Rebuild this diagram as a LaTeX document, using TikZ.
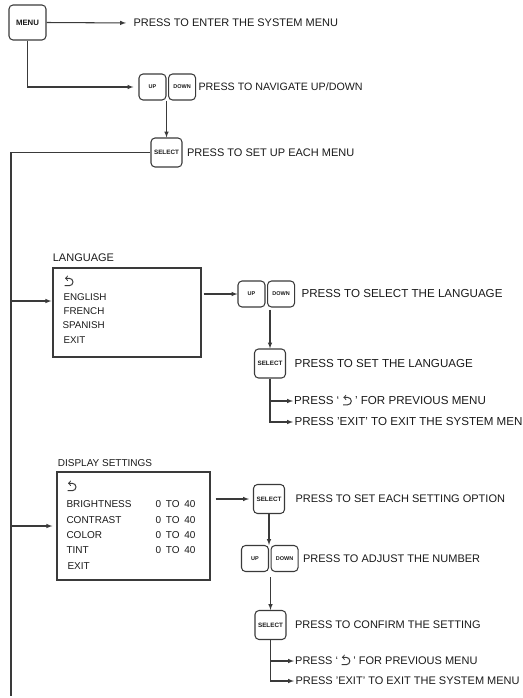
\documentclass[tikz,border=0pt]{standalone}
\usepackage{fontspec}
\setmainfont{Liberation Sans}
\usepackage{tikz}
\usetikzlibrary{calc,positioning,arrows}

\definecolor{linec}{HTML}{3A3A3A}
\definecolor{textc}{HTML}{1A1A1A}

\newcommand{\backsym}{\tikz[baseline=0pt,x=1pt,y=1pt,line width=1pt]{\draw[-to,linec] (0,0) -- (4.6,0) arc (-90:90:3.7) -- (0.3,7.4);}}

\begin{document}
\begin{tikzpicture}[x=1pt,y=-1pt,line width=1.05pt,color=linec,text=textc]
\tikzstyle{btn}=[draw, rounded corners=4pt, inner sep=0pt, minimum width=27pt, minimum height=26pt, font=\fontsize{5.5}{6}\selectfont\bfseries]
\tikzstyle{sel}=[btn, minimum width=31pt, minimum height=29pt, font=\fontsize{6.3}{7}\selectfont\bfseries]
\tikzstyle{lbl}=[anchor=west, inner sep=0pt, font=\fontsize{11}{13}\selectfont]
\tikzstyle{lblb}=[lbl, font=\fontsize{11.6}{13}\selectfont]
\tikzstyle{item}=[anchor=west, inner sep=0pt, font=\fontsize{9.8}{12}\selectfont]
\tikzstyle{menubox}=[draw, line width=1.3pt, inner sep=0pt]
\tikzstyle{arr}=[-latex]
\useasboundingbox (0,0) rectangle (522,698);

% main menu
\node[btn, minimum width=37pt, minimum height=35pt, font=\fontsize{7.8}{8}\selectfont\bfseries] (menu) at (27.5,22.5) {MENU};
\node[lbl] (t1) at (133,23) {PRESS TO ENTER THE SYSTEM MENU};
\draw[arr] (menu.east) -- (t1.west) [shorten >=7pt];
\node[btn] (up1) at (152.5,87) {UP};
\node[btn, right=1.5pt of up1] (down1) {DOWN};
\node[lbl, right=2pt of down1, font=\fontsize{10.7}{13}\selectfont] (t2) {PRESS TO NAVIGATE UP/DOWN};
\draw[arr, shorten >=5pt] (menu.south) |- (up1.west);
\node[sel] (sel1) at (166.5,152.5) {SELECT};
\node[lbl, right=4pt of sel1] (t3) {PRESS TO SET UP EACH MENU};
\draw[arr] (sel1.north |- up1.south) -- (sel1.north);
\coordinate (top) at (11,152.5);
\coordinate (bot) at (11,696);
\draw (sel1.west) -- (top) -- (bot);

% language
\node[menubox, minimum width=148pt, minimum height=89pt] (lang) at (127,312.5) {};
\node[item, anchor=south west, font=\fontsize{11}{13}\selectfont] (langt) at ($(lang.north west)+(0,-5)$) {LANGUAGE};
\node[item] (lb) at (64,282) {\backsym};
\node[item] (eng) at (63,297) {ENGLISH};
\node[item] (fre) at (63,311) {FRENCH};
\node[item] (spa) at (62,325) {SPANISH};
\node[item] (ex1) at (63,340) {EXIT};
\coordinate (j1) at (11,301);
\draw[arr] (j1) -- (j1 -| lang.west) [shorten >=1pt];

\node[btn] (up2) at (251.5,294) {UP};
\node[btn, right=1.5pt of up2] (down2) {DOWN};
\node[lblb, right=6pt of down2] (t4) {PRESS TO SELECT THE LANGUAGE};
\draw[arr, shorten <=2pt] (up2.west -| lang.east) -- (up2.west);
\node[sel] (sel2) at (270,363.5) {SELECT};
\node[lblb, right=8pt of sel2] (t5) {PRESS TO SET THE LANGUAGE};
\draw[arr, shorten <=2pt] (sel2.north |- up2.south) -- (sel2.north);
\node[lblb] (t6) at (294,401) {PRESS ‘ \backsym\ ’ FOR PREVIOUS MENU};
\node[lblb] (t7) at (294,422) {PRESS 'EXIT' TO EXIT THE SYSTEM MENU};
\draw[arr, shorten >=1pt] (sel2.south) |- (t6.west);
\draw[arr, shorten >=1pt] (sel2.south) |- (t7.west);

% display settings
\node[menubox, minimum width=153pt, minimum height=108pt] (disp) at (133.5,526) {};
\node[item, anchor=south west, font=\fontsize{10}{12}\selectfont] (dispt) at ($(disp.north west)+(1,-4)$) {DISPLAY SETTINGS};
\node[item] (db) at (67,487) {\backsym};
\foreach \name/\yy in {BRIGHTNESS/504, CONTRAST/520, COLOR/535, TINT/550}
{
\node[item, font=\fontsize{10}{12}\selectfont] (set\yy) at (66,\yy) {\name};
\node[item, font=\fontsize{10}{12}\selectfont] (rng\yy) at (155,\yy) {0\hspace{2pt} TO\hspace{2pt} 40};
}
\node[item, font=\fontsize{10}{12}\selectfont] (ex2) at (67,566) {EXIT};
\draw[arr] (disp.west -| top) -- (disp.west) [shorten >=4pt];

\node[sel] (sel3) at (269,499) {SELECT};
\node[lbl, right=10pt of sel3] (t8) {PRESS TO SET EACH SETTING OPTION};
\draw[arr, shorten <=5pt, shorten >=4pt] (sel3.west -| disp.east) -- (sel3.west);
\node[btn] (up3) at (255,558.5) {UP};
\node[btn, right=1.5pt of up3] (down3) {DOWN};
\node[lbl, right=4pt of down3] (t9) {PRESS TO ADJUST THE NUMBER};
\draw[arr] (sel3.south) -- (sel3.south |- up3.north);
\node[sel] (sel4) at (270.5,625) {SELECT};
\node[lbl, right=8pt of sel4] (t10) {PRESS TO CONFIRM THE SETTING};
\draw[arr, shorten <=5pt] (sel4.north |- up3.south) -- (sel4.north);
\node[lbl] (t11) at (295,661) {PRESS ‘ \backsym\ ’ FOR PREVIOUS MENU};
\node[lbl] (t12) at (295,681) {PRESS 'EXIT' TO EXIT THE SYSTEM MENU};
\draw[arr, shorten >=1pt] (sel4.south) |- (t11.west);
\draw[arr, shorten >=1pt] (sel4.south) |- (t12.west);
\end{tikzpicture}
\end{document}
